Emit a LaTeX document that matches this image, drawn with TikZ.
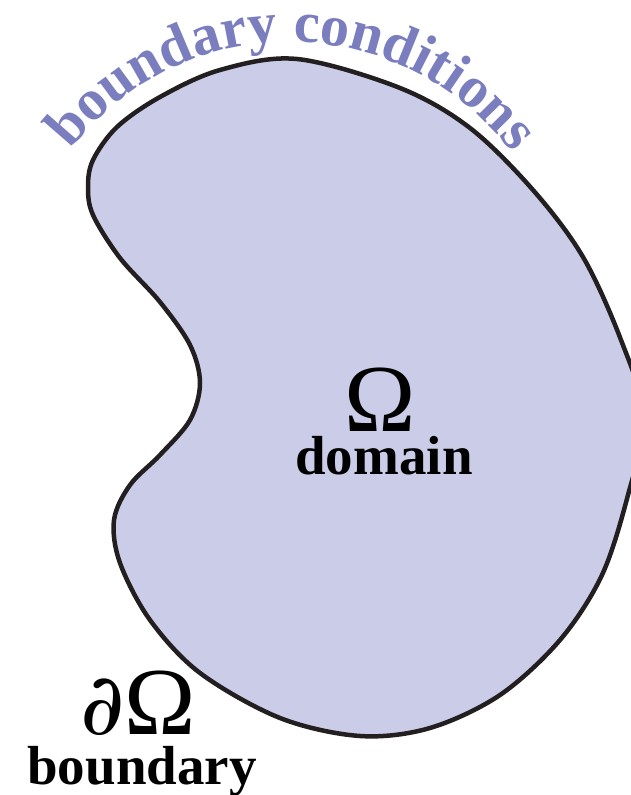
\documentclass[tikz,border=0pt]{standalone}
\usepackage{fontspec}
\setmainfont{Liberation Serif}
\newfontfamily\partialfont{DejaVu Serif}
\usetikzlibrary{decorations.text}

\definecolor{domainfill}{HTML}{CBCCE8}
\definecolor{outline}{HTML}{231F20}
\definecolor{bctext}{HTML}{7A7DBE}

\tikzset{
  region/.style={fill=domainfill, draw=outline, line width=4.5pt},
  biglabel/.style={anchor=base, inner sep=0pt, font=\fontsize{96}{98}\selectfont},
  wordlabel/.style={anchor=base, inner sep=0pt, font=\fontsize{55}{60}\selectfont\bfseries},
}

\begin{document}
\begin{tikzpicture}[x=1pt, y=1pt]
  \clip (0,0) rectangle (631,795);
  \useasboundingbox (0,0) rectangle (631,795);

  % kidney-shaped domain
  \draw[region] plot[smooth cycle, tension=0.55] coordinates {
    (297,736) (400,707) (470,667) (533,605) (583,538) (621,455)
    (644,378) (628,300) (602,220) (560,155) (500,100) (430,67)
    (360,59) (280,77) (200,122) (150,175) (120,232) (114,275)
    (130,310) (160,340) (190,375) (200,412) (190,450) (160,493)
    (120,537) (93,580) (88,608) (93,635) (117,668) (160,698) (220,725)};

  % curved caption along the top of the boundary
  \coordinate (arccentre) at (290,476);
  \path[decorate, decoration={text along path,
      text={|\fontsize{58}{64}\selectfont\bfseries\color{bctext}|boundary conditions},
      text align=center}]
    ([shift={(143:277)}]arccentre) arc[start angle=143, end angle=36, radius=277];

  % labels
  \node[biglabel] (omega) at (380,363) {Ω};
  \node[wordlabel] (domain) at (384,320) {domain};
  \node[biglabel] (domega) at (138,60) {{\partialfont\fontsize{86}{90}\selectfont ∂}Ω};
  \node[wordlabel] (boundary) at (142,10) {boundary};
\end{tikzpicture}
\end{document}
